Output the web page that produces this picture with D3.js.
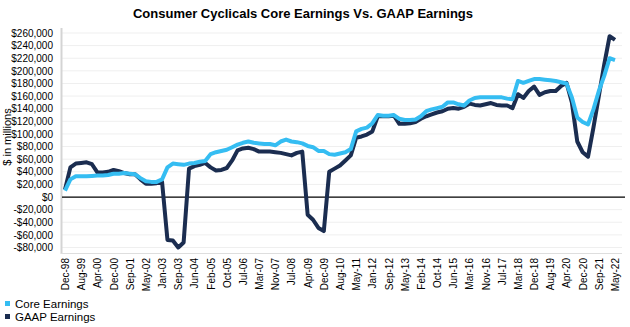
<!DOCTYPE html>
<html>
<head>
<meta charset="utf-8">
<script src="https://cdn.jsdelivr.net/npm/d3@7"></script>
<style>
  body { margin: 0; background: #fff; }
  text { font-family: "Liberation Sans", Arial, sans-serif; fill: #000; }
</style>
</head>
<body>
<div id="chart"></div>
<script>
// x axis labels, one every 3 data points
var tickLabels = ["Dec-98","Aug-99","Apr-00","Dec-00","Sep-01","May-02","Jan-03","Sep-03","Jun-04",
  "Feb-05","Oct-05","Jul-06","Mar-07","Nov-07","Jul-08","Apr-09","Dec-09","Aug-10","May-11",
  "Jan-12","Sep-12","May-13","Feb-14","Oct-14","Jun-15","Mar-16","Nov-16","Jul-17","Mar-18",
  "Dec-18","Aug-19","Apr-20","Dec-20","Sep-21","May-22"];

// $ in millions (thousands of millions here, scaled below)
var coreEarnings = [10,28,33,33,33,33.5,34,34,35,37,37,38,37,36,30,25,24,24,28,47,
  53,52,51,53,54,56,57,68,71,73,75,79,83,86,88,86,85,84,84,82,
  88,91,88,87,85,81,79,73,73,68,67,69,71,76,104,108,110,117,130,129,
  129,130,124,122,122,123,128,136,139,141,143,150,150,147,145,153,157,158,158,158,
  158,158,156,155,184,181,184,187,187,186,185,184,182,180,158,126,119,115,139,168,
  192,220,217];

var gaapEarnings = [12,47,53,54,55,52,39,39,40,43,41,38,36,36,28,21,21,22,24,-68,
  -69,-80,-72,45,49,51,54,47,42,43,46,58,74,77,78,76,72,72,72,71,
  70,68,66,70,72,-28,-36,-49,-54,40,45,50,58,66,94,96,99,104,128,128,
  128,129,116,116,117,119,124,128,131,134,136,140,141,140,143,148,146,145,147,149,
  146,145,145,141,163,157,168,175,162,166,168,168,176,181,150,88,71,64,110,160,
  210,255,249];

var yTicks = d3.range(-80000, 260001, 20000);

var width = 630, height = 327;
var svg = d3.select("#chart").append("svg")
    .attr("width", width)
    .attr("height", height);

var x = d3.scaleLinear().domain([0, coreEarnings.length - 1]).range([65, 615]);
var y = d3.scaleLinear().domain([-80000, 260000]).range([247.5, 33]);

// title
svg.append("text")
    .attr("x", 303).attr("y", 18)
    .attr("text-anchor", "middle")
    .style("font-weight", "bold")
    .style("font-size", "13px")
    .text("Consumer Cyclicals Core Earnings Vs. GAAP Earnings");

// gridlines
svg.append("g").selectAll("line")
    .data(yTicks.filter(function(d) { return d !== 0; }))
  .enter().append("line")
    .attr("x1", 62).attr("x2", 622)
    .attr("y1", function(d) { return y(d); })
    .attr("y2", function(d) { return y(d); })
    .style("stroke", "#efefef")
    .style("stroke-width", 1);

// plot border (left and bottom)
svg.append("line")
    .attr("x1", 61.5).attr("x2", 61.5).attr("y1", 28).attr("y2", 254)
    .style("stroke", "#d4d4d4").style("stroke-width", 2);
svg.append("line")
    .attr("x1", 61).attr("x2", 622).attr("y1", 253.5).attr("y2", 253.5)
    .style("stroke", "#dedede").style("stroke-width", 1);

// y axis
var yAxis = d3.axisLeft(y)
    .tickValues(yTicks)
    .tickSize(0)
    .tickPadding(9)
    .tickFormat(function(d) {
      return (d < 0 ? "-$" : "$") + d3.format(",")(Math.abs(d));
    });
svg.append("g")
    .attr("transform", "translate(62,0)")
    .call(yAxis)
    .call(function(g) { g.select(".domain").remove(); })
  .selectAll("text")
    .style("font-size", "10px");

svg.append("text")
    .attr("transform", "translate(11,137) rotate(-90)")
    .attr("text-anchor", "middle")
    .style("font-size", "11px")
    .text("$ in millions");

// zero line
svg.append("line")
    .attr("x1", 62).attr("x2", 625)
    .attr("y1", y(0)).attr("y2", y(0))
    .style("stroke", "#000").style("stroke-width", 1.2);

// x axis labels
var xAxis = d3.axisBottom(x)
    .tickValues(d3.range(0, coreEarnings.length, 3))
    .tickSize(0)
    .tickFormat(function(d) { return tickLabels[d / 3]; });
svg.append("g")
    .attr("transform", "translate(0,256)")
    .call(xAxis)
    .call(function(g) { g.select(".domain").remove(); })
  .selectAll("text")
    .style("font-size", "10px")
    .style("text-anchor", "end")
    .attr("dx", "-2")
    .attr("dy", "0.35em")
    .attr("y", 0)
    .attr("transform", "rotate(-90)");

var line = d3.line()
    .x(function(d, i) { return x(i); })
    .y(function(d) { return y(d * 1000); });

svg.append("path")
    .datum(gaapEarnings)
    .attr("d", line)
    .style("fill", "none")
    .style("stroke", "#1b2d50")
    .style("stroke-width", 4)
    .style("stroke-linejoin", "round");

svg.append("path")
    .datum(coreEarnings)
    .attr("d", line)
    .style("fill", "none")
    .style("stroke", "#35bdf2")
    .style("stroke-width", 4)
    .style("stroke-linejoin", "round");

// legend
var legend = [
  { label: "Core Earnings", color: "#35bdf2" },
  { label: "GAAP Earnings", color: "#1b2d50" }
];
var lg = svg.selectAll(".legend")
    .data(legend)
  .enter().append("g")
    .attr("class", "legend")
    .attr("transform", function(d, i) { return "translate(5," + (304 + i * 13) + ")"; });
lg.append("rect")
    .attr("x", 0).attr("y", -3)
    .attr("width", 5).attr("height", 5)
    .style("fill", function(d) { return d.color; });
lg.append("text")
    .attr("x", 10).attr("y", 0)
    .attr("dy", "0.35em")
    .style("font-size", "11.5px")
    .text(function(d) { return d.label; });
</script>
</body>
</html>
